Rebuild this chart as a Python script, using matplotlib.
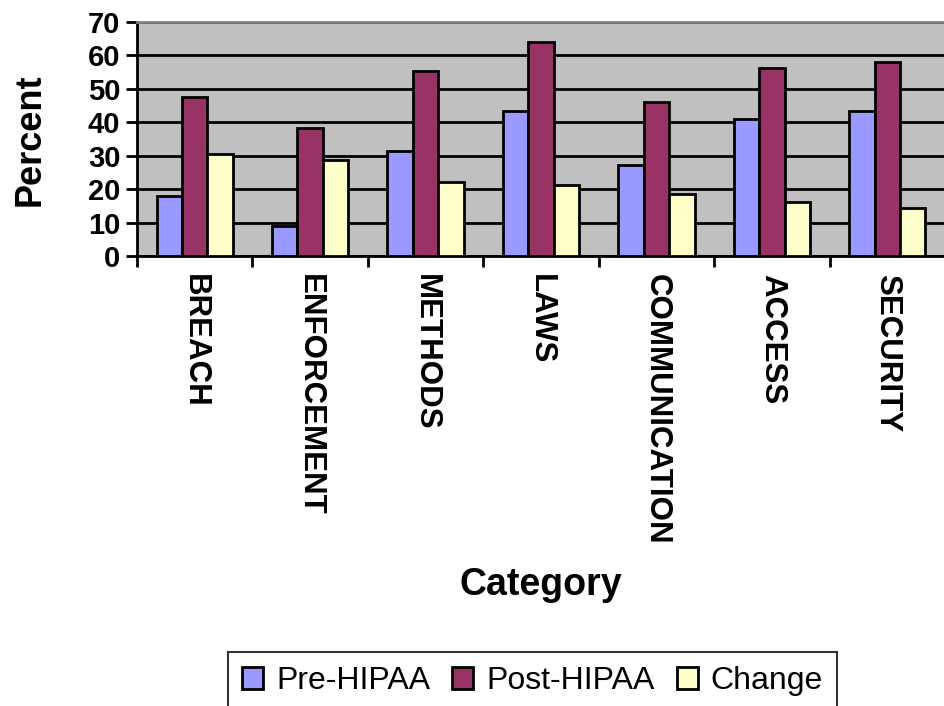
import numpy as np
import matplotlib.pyplot as plt
from matplotlib.patches import Patch

categories = ['BREACH', 'ENFORCEMENT', 'METHODS', 'LAWS', 'COMMUNICATION', 'ACCESS', 'SECURITY']
pre_hipaa = [17.8, 9.1, 31.3, 43.3, 27.2, 40.9, 43.4]
post_hipaa = [47.7, 38.4, 55.4, 64.0, 46.0, 56.2, 58.0]
change = [30.5, 28.8, 22.0, 21.3, 18.6, 16.2, 14.4]
series_names = ['Pre-HIPAA', 'Post-HIPAA', 'Change']
colors = ['#9999FF', '#993366', '#FFFFCC']

plt.rcParams['font.family'] = ['Liberation Sans', 'DejaVu Sans']

fig = plt.figure(figsize=(9.45, 7.06), dpi=100)
ax = fig.add_axes([137/945, 1-256/706, 1-137/945, (256-22)/706])
ax.set_facecolor('#C0C0C0')

x = np.arange(len(categories))
w = 0.22
for i, vals in enumerate([pre_hipaa, post_hipaa, change]):
    ax.bar(x + (i-1)*w, vals, width=w, color=colors[i], edgecolor='black', linewidth=2, zorder=3)

ax.set_xlim(-0.5, len(categories)-0.5)
ax.set_ylim(0, 70)
ax.set_yticks(range(0, 71, 10))
ax.yaxis.grid(True, color='black', linewidth=2, zorder=1)
ax.set_axisbelow(True)
for lab in ax.get_yticklabels():
    lab.set_fontweight('bold')
ax.tick_params(axis='y', labelsize=21, length=8, width=2, direction='out', pad=4)

# category names sit under the bars, ticks go between groups
ax.set_xticks(x)
ax.set_xticklabels(categories, rotation=270, fontsize=22.5, fontweight='bold', va='top', ha='center')
ax.tick_params(axis='x', which='major', length=0, pad=13)
ax.set_xticks(np.arange(-0.5, len(categories)), minor=True)
ax.tick_params(axis='x', which='minor', length=8, width=2, direction='out')

ax.spines['left'].set_linewidth(2)
ax.spines['bottom'].set_linewidth(2)
ax.spines['top'].set_color('#808080')
ax.spines['top'].set_linewidth(2)
ax.spines['right'].set_visible(False)

fig.text(30/945, 1-140/706, 'Percent', rotation=90, fontsize=26, fontweight='bold', ha='center', va='center')
fig.text(541/945, 1-585/706, 'Category', fontsize=27, fontweight='bold', ha='center', va='center')

handles = [Patch(facecolor=c, edgecolor='black', linewidth=2) for c in colors]
leg = fig.legend(handles, series_names, loc='upper left', bbox_to_anchor=(228/945, 1-652/706),
                 ncol=3, fontsize=23, frameon=True, fancybox=False, edgecolor='black',
                 handlelength=0.66, handleheight=0.66, handletextpad=0.4, columnspacing=0.69,
                 borderpad=0.45, borderaxespad=0)
leg.get_frame().set_linewidth(1.5)

fig.savefig('out.png', dpi=100)
